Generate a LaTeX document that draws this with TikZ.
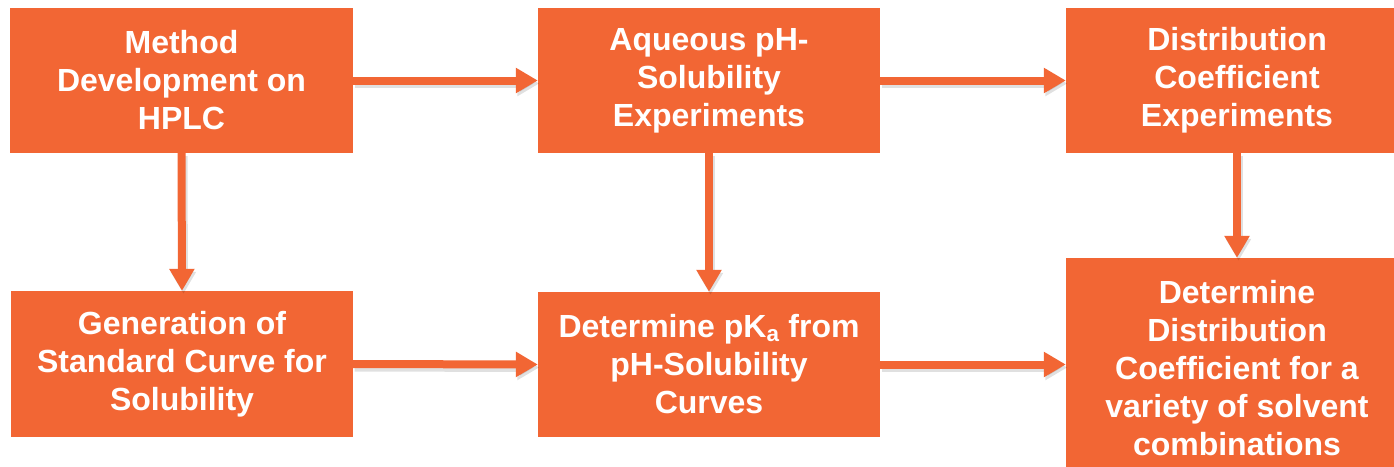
\documentclass[tikz,border=0pt]{standalone}
\usepackage{fontspec}
\setmainfont{Liberation Sans}
\usetikzlibrary{arrows.meta}
\definecolor{boxorange}{RGB}{242,102,52}
\tikzset{
  flowbox/.style={fill=boxorange, draw=none, inner sep=0pt, align=center,
    text=white, font=\bfseries\fontsize{32pt}{38pt}\selectfont},
  flowarrow/.style={draw=boxorange, line width=8pt,
    -{Triangle[width=24pt,length=22pt]},
    preaction={draw=black, opacity=0.12, line width=9pt,
      transform canvas={shift={(1.5pt,-3pt)}}}}
}
\begin{document}
\begin{tikzpicture}[x=1pt,y=-1pt]
\clip (0,0) rectangle (1394,466);
\fill[white] (0,0) rectangle (1394,466);
\node[flowbox, minimum width=343pt, minimum height=145pt] (b1) at (181.5,80.5) {Method\\Development on\\HPLC};
\node[flowbox, minimum width=342pt, minimum height=145pt] (b2) at (709,80.5) {Aqueous pH-\\Solubility\\Experiments};
\node[flowbox, minimum width=342pt, minimum height=145pt] (b3) at (1237,80.5) {Distribution\\Coefficient\\Experiments};
\node[flowbox, minimum width=342pt, minimum height=146pt] (b4) at (182,364) {Generation of\\Standard Curve for\\Solubility};
\node[flowbox, minimum width=342pt, minimum height=145pt] (b5) at (709,364.5) {Determine pK\textsubscript{a} from\\pH-Solubility\\Curves};
\node[flowbox, minimum width=342pt, minimum height=220pt] (b6) at (1237,368) {Determine\\Distribution\\Coefficient for a\\variety of solvent\\combinations};
\draw[flowarrow] (b1.east) -- (b2.west);
\draw[flowarrow] (b2.east) -- (b3.west);
\draw[flowarrow] (b1.south) -- (b4.north);
\draw[flowarrow] (b2.south) -- (b5.north);
\draw[flowarrow] (b3.south) -- (b6.north);
\draw[flowarrow] (b4.east) -- (b5.west);
\draw[flowarrow] (b5.east) -- (b5.east -| b6.west);
\end{tikzpicture}
\end{document}
